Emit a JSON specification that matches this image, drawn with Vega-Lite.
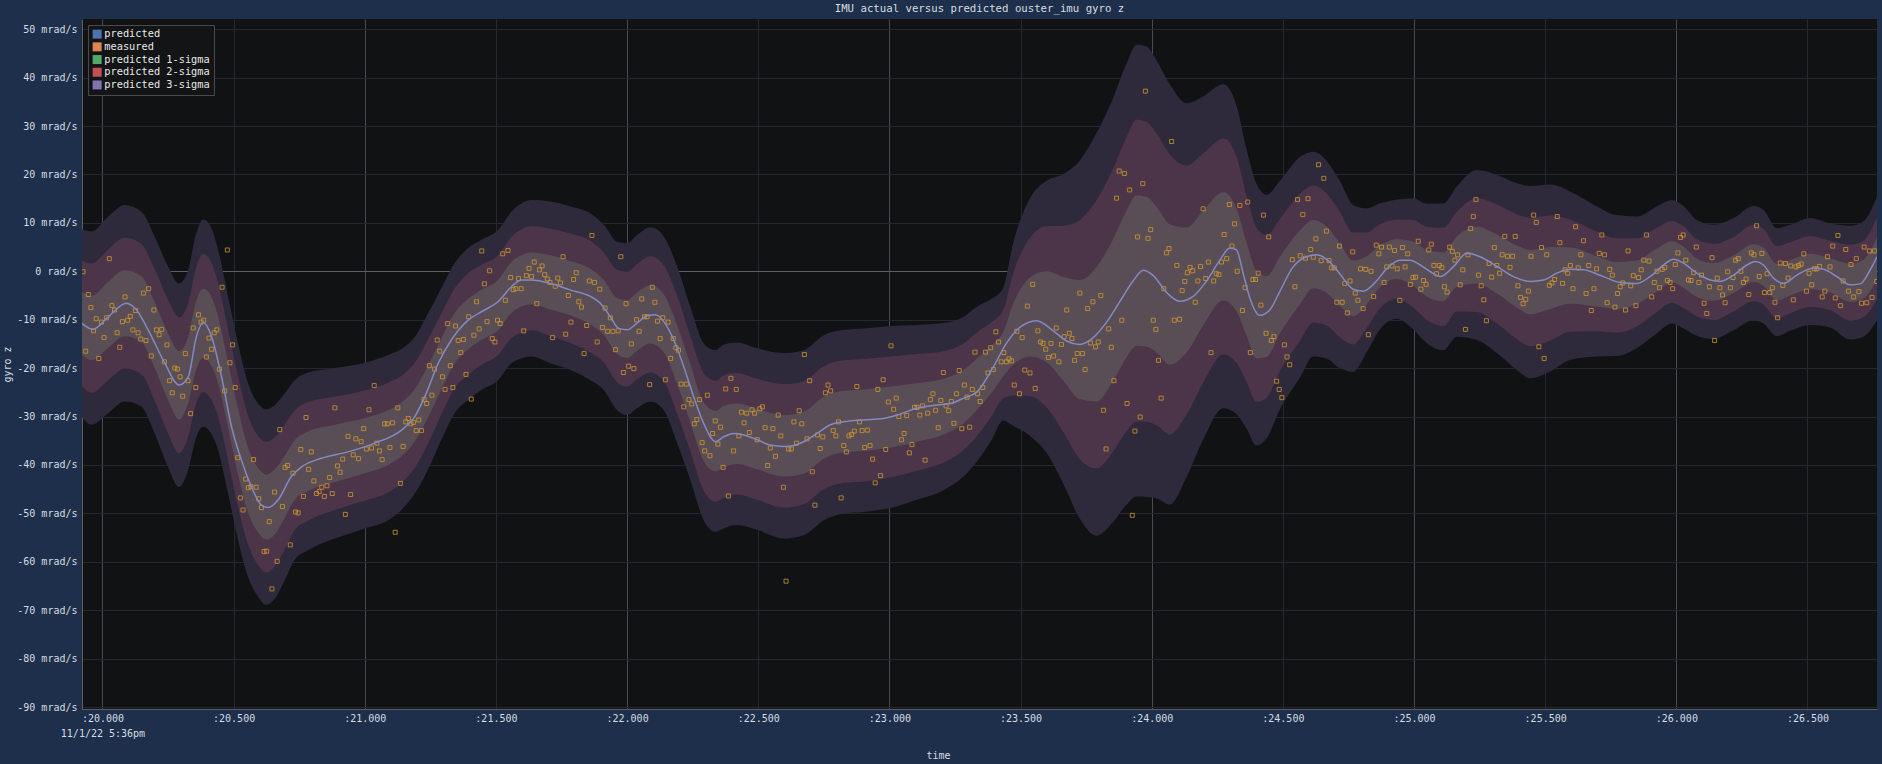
{
"$schema":"https://vega.github.io/schema/vega-lite/v6.json",
"width":1795,"height":690,
"autosize":{"type":"none"},
"padding":{"left":82,"top":19,"right":5,"bottom":55},
"background":"#1d2f4a",
"view":{"fill":"#111214","stroke":null},
"title":{"text":"IMU actual versus predicted ouster_imu gyro z","font":"DejaVu Sans Mono","fontSize":10.7,"fontWeight":"normal","color":"#d8dce0","anchor":"middle","offset":4},
"config":{
"view":{"fill":"#111214","stroke":null},
"axis":{"labelFont":"DejaVu Sans Mono","titleFont":"DejaVu Sans Mono","labelFontSize":10,"titleFontSize":10,"labelColor":"#d8dce0","titleColor":"#d8dce0","titleFontWeight":"normal","ticks":false,"domainColor":"#5a6068","domainWidth":1,"zindex":1},
"legend":{"orient":"top-left","offset":6,"fillColor":"#131416","strokeColor":"#4a4a4c","padding":4,"labelFont":"DejaVu Sans Mono","labelFontSize":10.3,"labelColor":"#e8e8e8","symbolType":"square","symbolSize":81,"symbolStrokeWidth":0,"symbolOpacity":1,"labelOffset":2,"rowPadding":1.7,"zindex":2}
},
"datasets":{
"band":[
{"t":19.920,"h3":8.7,"h2":2.3,"h1":-4.2,"l1":-17.1,"l2":-23.6,"l3":-30.0},
{"t":19.958,"h3":8.2,"h2":1.6,"h1":-5.1,"l1":-18.4,"l2":-25.1,"l3":-31.7},
{"t":20.022,"h3":11.3,"h2":4.5,"h1":-2.2,"l1":-15.8,"l2":-22.5,"l3":-29.3},
{"t":20.085,"h3":13.7,"h2":6.9,"h1":0.2,"l1":-13.4,"l2":-20.1,"l3":-26.9},
{"t":20.149,"h3":12.3,"h2":5.6,"h1":-1.1,"l1":-14.6,"l2":-21.3,"l3":-28.0},
{"t":20.199,"h3":7.2,"h2":0.4,"h1":-6.4,"l1":-19.9,"l2":-26.7,"l3":-33.5},
{"t":20.250,"h3":1.0,"h2":-5.9,"h1":-12.8,"l1":-26.6,"l2":-33.5,"l3":-40.4},
{"t":20.292,"h3":-2.5,"h2":-9.5,"h1":-16.5,"l1":-30.6,"l2":-37.6,"l3":-44.6},
{"t":20.327,"h3":0.3,"h2":-6.6,"h1":-13.5,"l1":-27.2,"l2":-34.1,"l3":-41.0},
{"t":20.358,"h3":7.9,"h2":0.9,"h1":-6.1,"l1":-20.2,"l2":-27.2,"l3":-34.2},
{"t":20.384,"h3":10.7,"h2":3.6,"h1":-3.6,"l1":-17.8,"l2":-25.0,"l3":-32.1},
{"t":20.409,"h3":9.6,"h2":2.5,"h1":-4.6,"l1":-18.9,"l2":-26.0,"l3":-33.1},
{"t":20.441,"h3":4.4,"h2":-2.5,"h1":-9.4,"l1":-23.1,"l2":-30.0,"l3":-36.9},
{"t":20.479,"h3":-5.2,"h2":-12.0,"h1":-18.8,"l1":-32.3,"l2":-39.1,"l3":-45.9},
{"t":20.517,"h3":-14.9,"h2":-21.7,"h1":-28.4,"l1":-42.0,"l2":-48.7,"l3":-55.5},
{"t":20.555,"h3":-23.1,"h2":-29.8,"h1":-36.4,"l1":-49.8,"l2":-56.4,"l3":-63.1},
{"t":20.593,"h3":-27.3,"h2":-34.0,"h1":-40.6,"l1":-53.9,"l2":-60.6,"l3":-67.2},
{"t":20.625,"h3":-28.5,"h2":-35.2,"h1":-42.0,"l1":-55.4,"l2":-62.2,"l3":-68.9},
{"t":20.657,"h3":-27.6,"h2":-34.3,"h1":-40.9,"l1":-54.3,"l2":-60.9,"l3":-67.6},
{"t":20.695,"h3":-25.2,"h2":-31.6,"h1":-38.1,"l1":-50.9,"l2":-57.4,"l3":-63.8},
{"t":20.733,"h3":-22.5,"h2":-28.7,"h1":-34.9,"l1":-47.2,"l2":-53.4,"l3":-59.6},
{"t":20.784,"h3":-20.9,"h2":-27.0,"h1":-33.1,"l1":-45.4,"l2":-51.5,"l3":-57.6},
{"t":20.886,"h3":-20.0,"h2":-25.9,"h1":-31.7,"l1":-43.5,"l2":-49.3,"l3":-55.2},
{"t":21.000,"h3":-18.9,"h2":-24.6,"h1":-30.3,"l1":-41.7,"l2":-47.4,"l3":-53.1},
{"t":21.089,"h3":-17.3,"h2":-23.0,"h1":-28.7,"l1":-40.0,"l2":-45.7,"l3":-51.4},
{"t":21.152,"h3":-15.6,"h2":-21.1,"h1":-26.6,"l1":-37.6,"l2":-43.1,"l3":-48.6},
{"t":21.191,"h3":-13.5,"h2":-18.9,"h1":-24.3,"l1":-35.1,"l2":-40.5,"l3":-45.9},
{"t":21.241,"h3":-8.7,"h2":-14.1,"h1":-19.5,"l1":-30.2,"l2":-35.6,"l3":-41.0},
{"t":21.292,"h3":-3.5,"h2":-8.7,"h1":-13.9,"l1":-24.4,"l2":-29.6,"l3":-34.8},
{"t":21.343,"h3":1.7,"h2":-3.5,"h1":-8.6,"l1":-19.0,"l2":-24.1,"l3":-29.3},
{"t":21.394,"h3":4.8,"h2":-0.4,"h1":-5.7,"l1":-16.1,"l2":-21.4,"l3":-26.6},
{"t":21.445,"h3":6.5,"h2":1.3,"h1":-3.8,"l1":-14.2,"l2":-19.3,"l3":-24.5},
{"t":21.508,"h3":8.5,"h2":3.3,"h1":-1.8,"l1":-12.2,"l2":-17.3,"l3":-22.5},
{"t":21.559,"h3":12.3,"h2":7.1,"h1":1.9,"l1":-8.6,"l2":-13.8,"l3":-19.0},
{"t":21.597,"h3":14.0,"h2":8.7,"h1":3.3,"l1":-7.3,"l2":-12.7,"l3":-18.0},
{"t":21.635,"h3":14.7,"h2":9.3,"h1":3.9,"l1":-6.8,"l2":-12.2,"l3":-17.6},
{"t":21.708,"h3":14.4,"h2":8.8,"h1":3.3,"l1":-7.9,"l2":-13.4,"l3":-19.0},
{"t":21.784,"h3":13.4,"h2":7.8,"h1":2.1,"l1":-9.1,"l2":-14.8,"l3":-20.4},
{"t":21.860,"h3":12.0,"h2":6.3,"h1":0.5,"l1":-11.0,"l2":-16.8,"l3":-22.5},
{"t":21.911,"h3":9.6,"h2":3.9,"h1":-1.8,"l1":-13.1,"l2":-18.8,"l3":-24.5},
{"t":21.962,"h3":6.1,"h2":0.3,"h1":-5.5,"l1":-17.1,"l2":-22.9,"l3":-28.7},
{"t":22.000,"h3":5.8,"h2":-0.1,"h1":-6.0,"l1":-17.9,"l2":-23.8,"l3":-29.7},
{"t":22.038,"h3":7.5,"h2":1.5,"h1":-4.4,"l1":-16.4,"l2":-22.3,"l3":-28.3},
{"t":22.089,"h3":9.1,"h2":3.1,"h1":-2.9,"l1":-14.9,"l2":-20.9,"l3":-26.9},
{"t":22.140,"h3":7.2,"h2":1.2,"h1":-4.8,"l1":-16.7,"l2":-22.7,"l3":-28.7},
{"t":22.191,"h3":1.0,"h2":-5.1,"h1":-11.2,"l1":-23.3,"l2":-29.4,"l3":-35.5},
{"t":22.241,"h3":-7.3,"h2":-13.3,"h1":-19.2,"l1":-31.2,"l2":-37.1,"l3":-43.1},
{"t":22.292,"h3":-14.9,"h2":-21.0,"h1":-27.1,"l1":-39.2,"l2":-45.3,"l3":-51.4},
{"t":22.337,"h3":-16.3,"h2":-22.6,"h1":-28.8,"l1":-41.3,"l2":-47.6,"l3":-53.8},
{"t":22.368,"h3":-15.2,"h2":-21.5,"h1":-27.8,"l1":-40.5,"l2":-46.8,"l3":-53.1},
{"t":22.419,"h3":-14.7,"h2":-21.0,"h1":-27.3,"l1":-39.8,"l2":-46.1,"l3":-52.4},
{"t":22.496,"h3":-15.9,"h2":-22.2,"h1":-28.4,"l1":-40.9,"l2":-47.2,"l3":-53.4},
{"t":22.597,"h3":-16.9,"h2":-23.3,"h1":-29.7,"l1":-42.4,"l2":-48.8,"l3":-55.2},
{"t":22.673,"h3":-16.3,"h2":-22.7,"h1":-29.0,"l1":-41.8,"l2":-48.1,"l3":-54.5},
{"t":22.750,"h3":-13.2,"h2":-19.6,"h1":-25.9,"l1":-38.7,"l2":-45.0,"l3":-51.4},
{"t":22.826,"h3":-12.1,"h2":-18.4,"h1":-24.7,"l1":-37.4,"l2":-43.7,"l3":-50.0},
{"t":22.902,"h3":-11.8,"h2":-18.1,"h1":-24.4,"l1":-37.1,"l2":-43.4,"l3":-49.7},
{"t":23.004,"h3":-11.3,"h2":-17.6,"h1":-23.8,"l1":-36.4,"l2":-42.6,"l3":-48.9},
{"t":23.105,"h3":-11.1,"h2":-17.1,"h1":-23.1,"l1":-35.2,"l2":-41.2,"l3":-47.2},
{"t":23.207,"h3":-10.7,"h2":-16.5,"h1":-22.2,"l1":-33.7,"l2":-39.5,"l3":-45.2},
{"t":23.283,"h3":-9.4,"h2":-14.9,"h1":-20.4,"l1":-31.4,"l2":-36.9,"l3":-42.4},
{"t":23.334,"h3":-7.3,"h2":-12.6,"h1":-18.0,"l1":-28.6,"l2":-34.0,"l3":-39.3},
{"t":23.390,"h3":-5.7,"h2":-10.5,"h1":-15.4,"l1":-25.1,"l2":-29.9,"l3":-34.8},
{"t":23.434,"h3":-3.4,"h2":-8.0,"h1":-12.5,"l1":-21.7,"l2":-26.2,"l3":-30.8},
{"t":23.472,"h3":5.9,"h2":-0.4,"h1":-6.7,"l1":-19.3,"l2":-25.6,"l3":-31.9},
{"t":23.536,"h3":15.1,"h2":6.9,"h1":-1.3,"l1":-17.6,"l2":-25.8,"l3":-34.0},
{"t":23.599,"h3":18.7,"h2":9.3,"h1":0.0,"l1":-18.8,"l2":-28.1,"l3":-37.5},
{"t":23.663,"h3":20.1,"h2":9.4,"h1":-1.2,"l1":-22.6,"l2":-33.2,"l3":-43.9},
{"t":23.726,"h3":22.9,"h2":10.6,"h1":-1.8,"l1":-26.4,"l2":-38.8,"l3":-51.1},
{"t":23.790,"h3":28.6,"h2":14.7,"h1":0.9,"l1":-26.9,"l2":-40.7,"l3":-54.6},
{"t":23.853,"h3":35.8,"h2":21.2,"h1":6.6,"l1":-22.6,"l2":-37.2,"l3":-51.8},
{"t":23.904,"h3":42.9,"h2":27.7,"h1":12.5,"l1":-17.8,"l2":-33.0,"l3":-48.2},
{"t":23.942,"h3":46.8,"h2":31.3,"h1":15.7,"l1":-15.4,"l2":-31.0,"l3":-46.5},
{"t":23.980,"h3":46.4,"h2":30.9,"h1":15.4,"l1":-15.6,"l2":-31.1,"l3":-46.6},
{"t":24.018,"h3":43.6,"h2":28.5,"h1":13.4,"l1":-16.7,"l2":-31.8,"l3":-46.9},
{"t":24.069,"h3":38.6,"h2":24.1,"h1":9.7,"l1":-19.3,"l2":-33.7,"l3":-48.2},
{"t":24.133,"h3":34.7,"h2":21.8,"h1":9.0,"l1":-16.8,"l2":-29.6,"l3":-42.5},
{"t":24.196,"h3":36.1,"h2":24.3,"h1":12.5,"l1":-11.2,"l2":-23.0,"l3":-34.8},
{"t":24.273,"h3":38.6,"h2":27.4,"h1":16.3,"l1":-6.0,"l2":-17.2,"l3":-28.3},
{"t":24.323,"h3":34.3,"h2":23.7,"h1":13.0,"l1":-8.2,"l2":-18.9,"l3":-29.5},
{"t":24.362,"h3":25.1,"h2":15.5,"h1":5.9,"l1":-13.3,"l2":-22.9,"l3":-32.5},
{"t":24.400,"h3":18.0,"h2":9.0,"h1":0.0,"l1":-18.0,"l2":-27.0,"l3":-36.0},
{"t":24.438,"h3":15.8,"h2":7.4,"h1":-1.0,"l1":-17.7,"l2":-26.1,"l3":-34.5},
{"t":24.489,"h3":18.7,"h2":10.8,"h1":3.0,"l1":-12.8,"l2":-20.6,"l3":-28.5},
{"t":24.565,"h3":23.6,"h2":16.0,"h1":8.4,"l1":-6.8,"l2":-14.4,"l3":-22.0},
{"t":24.616,"h3":24.7,"h2":17.7,"h1":10.6,"l1":-3.5,"l2":-10.6,"l3":-17.6},
{"t":24.666,"h3":22.9,"h2":16.1,"h1":9.3,"l1":-4.4,"l2":-11.2,"l3":-18.0},
{"t":24.717,"h3":18.7,"h2":12.3,"h1":5.8,"l1":-7.1,"l2":-13.6,"l3":-20.0},
{"t":24.768,"h3":13.7,"h2":8.0,"h1":2.2,"l1":-9.3,"l2":-15.1,"l3":-20.8},
{"t":24.819,"h3":13.0,"h2":8.0,"h1":3.1,"l1":-6.9,"l2":-11.8,"l3":-16.8},
{"t":24.870,"h3":14.0,"h2":9.7,"h1":5.3,"l1":-3.3,"l2":-7.7,"l3":-12.0},
{"t":24.933,"h3":14.8,"h2":10.7,"h1":6.6,"l1":-1.6,"l2":-5.7,"l3":-9.8},
{"t":24.997,"h3":15.1,"h2":10.6,"h1":6.1,"l1":-3.0,"l2":-7.5,"l3":-12.0},
{"t":25.048,"h3":14.0,"h2":9.2,"h1":4.4,"l1":-5.2,"l2":-10.0,"l3":-14.8},
{"t":25.112,"h3":14.0,"h2":9.0,"h1":3.9,"l1":-6.2,"l2":-11.3,"l3":-16.3},
{"t":25.163,"h3":17.5,"h2":12.3,"h1":7.2,"l1":-3.2,"l2":-8.3,"l3":-13.5},
{"t":25.240,"h3":20.9,"h2":15.1,"h1":9.2,"l1":-2.5,"l2":-8.4,"l3":-14.2},
{"t":25.316,"h3":19.9,"h2":13.8,"h1":7.6,"l1":-4.6,"l2":-10.8,"l3":-16.9},
{"t":25.392,"h3":18.2,"h2":11.8,"h1":5.3,"l1":-7.5,"l2":-14.0,"l3":-20.4},
{"t":25.443,"h3":17.6,"h2":11.0,"h1":4.4,"l1":-8.9,"l2":-15.5,"l3":-22.1},
{"t":25.519,"h3":17.9,"h2":11.5,"h1":5.0,"l1":-7.8,"l2":-14.3,"l3":-20.7},
{"t":25.595,"h3":16.5,"h2":10.7,"h1":4.9,"l1":-6.7,"l2":-12.5,"l3":-18.3},
{"t":25.697,"h3":13.4,"h2":8.2,"h1":3.1,"l1":-7.3,"l2":-12.4,"l3":-17.6},
{"t":25.773,"h3":11.6,"h2":6.8,"h1":1.9,"l1":-7.8,"l2":-12.7,"l3":-17.5},
{"t":25.849,"h3":11.3,"h2":6.8,"h1":2.2,"l1":-6.8,"l2":-11.4,"l3":-15.9},
{"t":25.926,"h3":13.4,"h2":9.0,"h1":4.7,"l1":-4.1,"l2":-8.4,"l3":-12.8},
{"t":25.983,"h3":14.7,"h2":10.4,"h1":6.2,"l1":-2.3,"l2":-6.5,"l3":-10.8},
{"t":26.027,"h3":13.5,"h2":9.3,"h1":5.1,"l1":-3.4,"l2":-7.6,"l3":-11.8},
{"t":26.078,"h3":10.6,"h2":6.6,"h1":2.6,"l1":-5.3,"l2":-9.3,"l3":-13.3},
{"t":26.142,"h3":9.6,"h2":5.7,"h1":1.7,"l1":-6.1,"l2":-10.1,"l3":-14.0},
{"t":26.218,"h3":11.0,"h2":7.1,"h1":3.3,"l1":-4.5,"l2":-8.3,"l3":-12.2},
{"t":26.294,"h3":13.5,"h2":9.6,"h1":5.6,"l1":-2.2,"l2":-6.2,"l3":-10.1},
{"t":26.332,"h3":12.7,"h2":8.8,"h1":4.9,"l1":-3.0,"l2":-6.9,"l3":-10.8},
{"t":26.383,"h3":8.9,"h2":5.2,"h1":1.5,"l1":-6.0,"l2":-9.7,"l3":-13.4},
{"t":26.434,"h3":9.6,"h2":6.0,"h1":2.3,"l1":-5.0,"l2":-8.7,"l3":-12.3},
{"t":26.510,"h3":11.0,"h2":7.3,"h1":3.6,"l1":-3.7,"l2":-7.4,"l3":-11.1},
{"t":26.586,"h3":9.9,"h2":6.3,"h1":2.7,"l1":-4.4,"l2":-8.0,"l3":-11.6},
{"t":26.663,"h3":9.4,"h2":5.5,"h1":1.6,"l1":-6.3,"l2":-10.2,"l3":-14.1},
{"t":26.713,"h3":10.3,"h2":6.3,"h1":2.4,"l1":-5.6,"l2":-9.5,"l3":-13.5},
{"t":26.765,"h3":15.4,"h2":11.2,"h1":6.9,"l1":-1.6,"l2":-5.9,"l3":-10.1}
],
"line":[
{"t":19.920,"p":-10.7},{"t":19.964,"p":-12.0},{"t":20.022,"p":-9.4},{"t":20.091,"p":-6.6},{"t":20.130,"p":-8.0},{"t":20.174,"p":-12.1},{"t":20.238,"p":-19.0},{"t":20.292,"p":-23.5},{"t":20.327,"p":-21.8},{"t":20.358,"p":-13.5},{"t":20.384,"p":-10.6},{"t":20.416,"p":-13.5},{"t":20.454,"p":-21.8},{"t":20.492,"p":-32.1},{"t":20.530,"p":-39.0},{"t":20.568,"p":-44.5},{"t":20.606,"p":-48.3},{"t":20.632,"p":-48.8},{"t":20.670,"p":-47.2},{"t":20.720,"p":-42.4},{"t":20.759,"p":-40.4},{"t":20.835,"p":-38.6},{"t":20.936,"p":-37.3},{"t":21.038,"p":-35.5},{"t":21.140,"p":-32.8},{"t":21.191,"p":-30.0},{"t":21.229,"p":-25.9},{"t":21.280,"p":-19.0},{"t":21.330,"p":-14.2},{"t":21.394,"p":-10.1},{"t":21.457,"p":-8.0},{"t":21.508,"p":-6.3},{"t":21.559,"p":-3.2},{"t":21.597,"p":-1.8},{"t":21.632,"p":-1.8},{"t":21.708,"p":-2.5},{"t":21.784,"p":-3.9},{"t":21.860,"p":-5.2},{"t":21.898,"p":-6.6},{"t":21.936,"p":-9.4},{"t":21.968,"p":-11.8},{"t":22.000,"p":-12.1},{"t":22.038,"p":-10.7},{"t":22.076,"p":-9.2},{"t":22.108,"p":-9.0},{"t":22.140,"p":-10.4},{"t":22.178,"p":-14.2},{"t":22.216,"p":-19.7},{"t":22.254,"p":-25.9},{"t":22.292,"p":-31.4},{"t":22.337,"p":-35.2},{"t":22.368,"p":-34.2},{"t":22.407,"p":-33.5},{"t":22.445,"p":-33.8},{"t":22.496,"p":-34.8},{"t":22.546,"p":-35.9},{"t":22.597,"p":-36.2},{"t":22.635,"p":-36.0},{"t":22.673,"p":-35.2},{"t":22.724,"p":-33.5},{"t":22.775,"p":-31.7},{"t":22.826,"p":-31.1},{"t":22.902,"p":-30.7},{"t":22.978,"p":-30.4},{"t":23.029,"p":-29.7},{"t":23.105,"p":-28.3},{"t":23.182,"p":-27.6},{"t":23.233,"p":-27.3},{"t":23.283,"p":-26.2},{"t":23.334,"p":-24.9},{"t":23.396,"p":-19.8},{"t":23.447,"p":-14.8},{"t":23.497,"p":-11.6},{"t":23.561,"p":-10.2},{"t":23.625,"p":-12.3},{"t":23.675,"p":-14.4},{"t":23.726,"p":-15.1},{"t":23.777,"p":-13.7},{"t":23.828,"p":-10.5},{"t":23.879,"p":-6.2},{"t":23.929,"p":-2.0},{"t":23.968,"p":0.2},{"t":24.006,"p":-0.9},{"t":24.057,"p":-4.4},{"t":24.107,"p":-6.2},{"t":24.158,"p":-5.2},{"t":24.209,"p":-2.0},{"t":24.260,"p":2.3},{"t":24.298,"p":4.8},{"t":24.323,"p":4.4},{"t":24.349,"p":-0.5},{"t":24.374,"p":-5.5},{"t":24.412,"p":-9.1},{"t":24.450,"p":-8.0},{"t":24.489,"p":-4.1},{"t":24.539,"p":0.9},{"t":24.590,"p":3.0},{"t":24.628,"p":3.4},{"t":24.679,"p":1.9},{"t":24.717,"p":-0.5},{"t":24.768,"p":-3.7},{"t":24.806,"p":-4.1},{"t":24.857,"p":-2.0},{"t":24.895,"p":0.5},{"t":24.946,"p":2.3},{"t":24.984,"p":2.3},{"t":25.035,"p":0.9},{"t":25.062,"p":-0.1},{"t":25.100,"p":-1.1},{"t":25.151,"p":1.0},{"t":25.201,"p":3.7},{"t":25.252,"p":3.0},{"t":25.316,"p":1.0},{"t":25.379,"p":-1.1},{"t":25.443,"p":-2.1},{"t":25.494,"p":-1.8},{"t":25.544,"p":-0.4},{"t":25.595,"p":0.4},{"t":25.646,"p":0.3},{"t":25.722,"p":-1.1},{"t":25.786,"p":-2.3},{"t":25.849,"p":-2.5},{"t":25.900,"p":-1.1},{"t":25.951,"p":1.3},{"t":25.989,"p":2.5},{"t":26.027,"p":1.7},{"t":26.078,"p":-0.4},{"t":26.129,"p":-1.8},{"t":26.167,"p":-2.1},{"t":26.218,"p":-0.8},{"t":26.269,"p":1.3},{"t":26.301,"p":2.0},{"t":26.332,"p":1.3},{"t":26.370,"p":-1.4},{"t":26.409,"p":-2.5},{"t":26.459,"p":-0.8},{"t":26.523,"p":0.6},{"t":26.561,"p":0.4},{"t":26.612,"p":-1.1},{"t":26.663,"p":-2.8},{"t":26.701,"p":-2.6},{"t":26.739,"p":0.3},{"t":26.765,"p":3.0}
],
"meas":[
{"t":19.926,"v":-0.1},{"t":19.936,"v":-16.5},{"t":19.946,"v":-4.8},{"t":19.956,"v":-7.5},{"t":19.966,"v":-12.3},{"t":19.976,"v":-9.8},{"t":19.986,"v":-18.0},{"t":19.996,"v":-10.5},{"t":20.006,"v":-13.7},{"t":20.016,"v":-9.6},
{"t":20.026,"v":2.6},{"t":20.036,"v":-7.1},{"t":20.046,"v":-8.0},{"t":20.056,"v":-12.7},{"t":20.066,"v":-15.7},{"t":20.076,"v":-10.4},{"t":20.086,"v":-5.3},{"t":20.096,"v":-10.1},{"t":20.106,"v":-9.3},{"t":20.116,"v":-12.1},
{"t":20.126,"v":-8.1},{"t":20.136,"v":-12.7},{"t":20.146,"v":-14.0},{"t":20.156,"v":-4.5},{"t":20.166,"v":-14.3},{"t":20.176,"v":-3.6},{"t":20.186,"v":-17.5},{"t":20.196,"v":-8.0},{"t":20.206,"v":-12.1},{"t":20.216,"v":-13.1},
{"t":20.226,"v":-12.0},{"t":20.236,"v":-18.7},{"t":20.246,"v":-15.2},{"t":20.256,"v":-22.6},{"t":20.266,"v":-25.1},{"t":20.276,"v":-20.0},{"t":20.286,"v":-20.2},{"t":20.296,"v":-21.8},{"t":20.306,"v":-25.8},{"t":20.316,"v":-17.0},
{"t":20.326,"v":-22.6},{"t":20.336,"v":-29.4},{"t":20.346,"v":-11.7},{"t":20.356,"v":-24.0},{"t":20.366,"v":-9.0},{"t":20.376,"v":-10.5},{"t":20.386,"v":-10.1},{"t":20.396,"v":-17.7},{"t":20.406,"v":-13.8},{"t":20.416,"v":-16.1},
{"t":20.426,"v":-12.7},{"t":20.436,"v":-12.1},{"t":20.446,"v":-20.2},{"t":20.456,"v":-3.3},{"t":20.466,"v":-24.7},{"t":20.476,"v":4.4},{"t":20.486,"v":-18.9},{"t":20.496,"v":-15.2},{"t":20.506,"v":-24.0},{"t":20.516,"v":-38.5},
{"t":20.526,"v":-46.8},{"t":20.536,"v":-49.3},{"t":20.546,"v":-42.9},{"t":20.556,"v":-44.7},{"t":20.566,"v":-44.5},{"t":20.576,"v":-38.9},{"t":20.586,"v":-44.6},{"t":20.596,"v":-47.0},{"t":20.606,"v":-48.8},{"t":20.616,"v":-57.9},
{"t":20.626,"v":-57.8},{"t":20.636,"v":-51.7},{"t":20.646,"v":-65.6},{"t":20.656,"v":-45.6},{"t":20.666,"v":-59.9},{"t":20.676,"v":-32.7},{"t":20.686,"v":-48.6},{"t":20.696,"v":-40.5},{"t":20.706,"v":-40.1},{"t":20.716,"v":-56.5},
{"t":20.726,"v":-41.7},{"t":20.736,"v":-49.7},{"t":20.746,"v":-49.9},{"t":20.756,"v":-36.8},{"t":20.766,"v":-46.5},{"t":20.776,"v":-30.2},{"t":20.786,"v":-40.9},{"t":20.796,"v":-37.3},{"t":20.806,"v":-43.3},{"t":20.816,"v":-45.9},
{"t":20.826,"v":-45.5},{"t":20.836,"v":-44.6},{"t":20.846,"v":-46.5},{"t":20.856,"v":-44.3},{"t":20.866,"v":-42.6},{"t":20.876,"v":-45.9},{"t":20.886,"v":-28.2},{"t":20.896,"v":-40.2},{"t":20.906,"v":-41.5},{"t":20.916,"v":-38.8},
{"t":20.926,"v":-50.2},{"t":20.936,"v":-34.1},{"t":20.946,"v":-46.1},{"t":20.956,"v":-37.9},{"t":20.966,"v":-34.6},{"t":20.976,"v":-38.7},{"t":20.986,"v":-35.2},{"t":20.996,"v":-32.5},{"t":21.006,"v":-36.7},{"t":21.016,"v":-28.6},
{"t":21.026,"v":-36.5},{"t":21.036,"v":-23.6},{"t":21.046,"v":-35.5},{"t":21.056,"v":-37.1},{"t":21.066,"v":-38.9},{"t":21.076,"v":-31.5},{"t":21.086,"v":-31.5},{"t":21.096,"v":-36.4},{"t":21.106,"v":-31.3},{"t":21.116,"v":-53.9},
{"t":21.126,"v":-28.2},{"t":21.136,"v":-43.8},{"t":21.146,"v":-36.2},{"t":21.156,"v":-31.1},{"t":21.166,"v":-30.4},{"t":21.176,"v":-31.5},{"t":21.186,"v":-31.2},{"t":21.196,"v":-32.9},{"t":21.206,"v":-30.7},{"t":21.216,"v":-32.9},
{"t":21.226,"v":-26.5},{"t":21.236,"v":-27.3},{"t":21.246,"v":-19.5},{"t":21.256,"v":-25.6},{"t":21.266,"v":-20.2},{"t":21.276,"v":-14.2},{"t":21.286,"v":-16.5},{"t":21.296,"v":-21.8},{"t":21.306,"v":-24.4},{"t":21.316,"v":-10.8},
{"t":21.326,"v":-19.5},{"t":21.336,"v":-24.0},{"t":21.346,"v":-11.3},{"t":21.356,"v":-14.3},{"t":21.366,"v":-16.8},{"t":21.376,"v":-14.1},{"t":21.386,"v":-21.3},{"t":21.396,"v":-9.4},{"t":21.406,"v":-26.4},{"t":21.416,"v":-13.2},
{"t":21.426,"v":-6.3},{"t":21.436,"v":-11.9},{"t":21.446,"v":4.2},{"t":21.456,"v":-2.6},{"t":21.466,"v":-10.4},{"t":21.476,"v":0.1},{"t":21.486,"v":-13.9},{"t":21.496,"v":-14.6},{"t":21.506,"v":-10.1},{"t":21.516,"v":-10.8},
{"t":21.526,"v":3.6},{"t":21.536,"v":-6.0},{"t":21.546,"v":4.3},{"t":21.556,"v":-1.3},{"t":21.566,"v":-3.8},{"t":21.576,"v":-3.6},{"t":21.586,"v":-1.5},{"t":21.596,"v":-3.6},{"t":21.606,"v":-12.3},{"t":21.616,"v":-0.9},
{"t":21.626,"v":0.6},{"t":21.636,"v":-1.1},{"t":21.646,"v":1.9},{"t":21.656,"v":-6.7},{"t":21.666,"v":0.3},{"t":21.676,"v":1.1},{"t":21.686,"v":-0.7},{"t":21.696,"v":-1.6},{"t":21.706,"v":-2.3},{"t":21.716,"v":-13.7},
{"t":21.726,"v":-3.1},{"t":21.736,"v":-1.4},{"t":21.746,"v":-2.4},{"t":21.756,"v":3.0},{"t":21.766,"v":-13.0},{"t":21.776,"v":-5.0},{"t":21.786,"v":-10.5},{"t":21.796,"v":-1.7},{"t":21.806,"v":-0.3},{"t":21.816,"v":-6.3},
{"t":21.826,"v":-7.4},{"t":21.836,"v":-17.0},{"t":21.846,"v":-11.2},{"t":21.856,"v":-2.0},{"t":21.866,"v":7.4},{"t":21.876,"v":-2.3},{"t":21.886,"v":-14.6},{"t":21.896,"v":-3.7},{"t":21.906,"v":-11.6},{"t":21.916,"v":-7.6},
{"t":21.926,"v":-12.4},{"t":21.936,"v":-9.6},{"t":21.946,"v":-12.4},{"t":21.956,"v":-16.2},{"t":21.966,"v":-12.3},{"t":21.976,"v":3.0},{"t":21.986,"v":-20.9},{"t":21.996,"v":-6.7},{"t":22.006,"v":-19.6},{"t":22.016,"v":-15.0},
{"t":22.026,"v":-20.1},{"t":22.036,"v":-10.0},{"t":22.046,"v":-12.4},{"t":22.056,"v":-5.7},{"t":22.066,"v":-9.4},{"t":22.076,"v":-9.4},{"t":22.086,"v":-23.4},{"t":22.096,"v":-3.3},{"t":22.106,"v":-6.4},{"t":22.116,"v":-10.3},
{"t":22.126,"v":-13.9},{"t":22.136,"v":-9.6},{"t":22.146,"v":-22.4},{"t":22.156,"v":-10.5},{"t":22.166,"v":-18.0},{"t":22.176,"v":-13.9},{"t":22.186,"v":-15.8},{"t":22.196,"v":-16.3},{"t":22.206,"v":-23.3},{"t":22.216,"v":-28.0},
{"t":22.226,"v":-23.3},{"t":22.236,"v":-26.5},{"t":22.246,"v":-27.4},{"t":22.256,"v":-31.5},{"t":22.266,"v":-30.6},{"t":22.276,"v":-26.5},{"t":22.286,"v":-35.4},{"t":22.296,"v":-37.1},{"t":22.306,"v":-25.6},{"t":22.316,"v":-38.1},
{"t":22.326,"v":-33.5},{"t":22.336,"v":-30.9},{"t":22.346,"v":-35.7},{"t":22.356,"v":-32.2},{"t":22.366,"v":-40.5},{"t":22.376,"v":-24.3},{"t":22.386,"v":-46.4},{"t":22.396,"v":-22.1},{"t":22.406,"v":-37.1},{"t":22.416,"v":-24.4},
{"t":22.426,"v":-34.0},{"t":22.436,"v":-29.1},{"t":22.446,"v":-31.3},{"t":22.456,"v":-29.3},{"t":22.466,"v":-33.3},{"t":22.476,"v":-28.6},{"t":22.486,"v":-29.3},{"t":22.496,"v":-34.8},{"t":22.506,"v":-28.4},{"t":22.516,"v":-28.0},
{"t":22.526,"v":-32.3},{"t":22.536,"v":-40.1},{"t":22.546,"v":-36.5},{"t":22.556,"v":-32.5},{"t":22.566,"v":-38.2},{"t":22.576,"v":-29.7},{"t":22.586,"v":-34.0},{"t":22.596,"v":-44.6},{"t":22.606,"v":-64.0},{"t":22.616,"v":-36.7},
{"t":22.626,"v":-36.7},{"t":22.636,"v":-31.1},{"t":22.646,"v":-35.5},{"t":22.656,"v":-28.8},{"t":22.666,"v":-31.5},{"t":22.676,"v":-17.2},{"t":22.686,"v":-34.6},{"t":22.696,"v":-22.6},{"t":22.706,"v":-41.4},{"t":22.716,"v":-48.3},
{"t":22.726,"v":-33.8},{"t":22.736,"v":-36.6},{"t":22.746,"v":-34.2},{"t":22.756,"v":-25.1},{"t":22.766,"v":-23.5},{"t":22.776,"v":-24.7},{"t":22.786,"v":-32.9},{"t":22.796,"v":-34.0},{"t":22.806,"v":-31.1},{"t":22.816,"v":-46.8},
{"t":22.826,"v":-36.0},{"t":22.836,"v":-37.3},{"t":22.846,"v":-34.0},{"t":22.856,"v":-33.7},{"t":22.866,"v":-33.0},{"t":22.876,"v":-23.8},{"t":22.886,"v":-31.1},{"t":22.896,"v":-32.9},{"t":22.906,"v":-36.4},{"t":22.916,"v":-32.8},
{"t":22.926,"v":-36.0},{"t":22.936,"v":-38.8},{"t":22.946,"v":-43.7},{"t":22.956,"v":-24.4},{"t":22.966,"v":-42.2},{"t":22.976,"v":-22.4},{"t":22.986,"v":-36.8},{"t":22.996,"v":-27.0},{"t":23.006,"v":-15.4},{"t":23.016,"v":-28.5},
{"t":23.026,"v":-26.2},{"t":23.036,"v":-30.0},{"t":23.046,"v":-34.8},{"t":23.056,"v":-33.5},{"t":23.066,"v":-29.8},{"t":23.076,"v":-37.5},{"t":23.086,"v":-35.8},{"t":23.096,"v":-28.1},{"t":23.106,"v":-28.1},{"t":23.116,"v":-29.7},
{"t":23.126,"v":-27.8},{"t":23.136,"v":-39.0},{"t":23.146,"v":-29.3},{"t":23.156,"v":-26.5},{"t":23.166,"v":-25.3},{"t":23.176,"v":-28.7},{"t":23.186,"v":-32.3},{"t":23.196,"v":-26.7},{"t":23.206,"v":-20.9},{"t":23.216,"v":-27.8},
{"t":23.226,"v":-28.8},{"t":23.236,"v":-26.9},{"t":23.246,"v":-31.4},{"t":23.256,"v":-25.3},{"t":23.266,"v":-20.5},{"t":23.276,"v":-32.5},{"t":23.286,"v":-23.5},{"t":23.296,"v":-26.0},{"t":23.306,"v":-32.2},{"t":23.316,"v":-24.4},
{"t":23.326,"v":-16.7},{"t":23.336,"v":-25.3},{"t":23.346,"v":-26.9},{"t":23.356,"v":-24.0},{"t":23.366,"v":-16.7},{"t":23.376,"v":-21.0},{"t":23.386,"v":-15.8},{"t":23.396,"v":-20.3},{"t":23.406,"v":-12.5},{"t":23.416,"v":-14.6},
{"t":23.426,"v":-18.7},{"t":23.436,"v":-16.8},{"t":23.446,"v":-18.7},{"t":23.456,"v":-18.1},{"t":23.466,"v":-18.5},{"t":23.476,"v":-23.5},{"t":23.486,"v":-12.4},{"t":23.496,"v":-25.3},{"t":23.506,"v":-13.7},{"t":23.516,"v":-20.4},
{"t":23.526,"v":-7.2},{"t":23.536,"v":-21.0},{"t":23.546,"v":-2.7},{"t":23.556,"v":-24.2},{"t":23.566,"v":-12.3},{"t":23.576,"v":-14.6},{"t":23.586,"v":-14.9},{"t":23.596,"v":-16.1},{"t":23.606,"v":-17.8},{"t":23.616,"v":-14.9},
{"t":23.626,"v":-17.5},{"t":23.636,"v":-11.7},{"t":23.646,"v":-18.7},{"t":23.656,"v":-15.1},{"t":23.666,"v":-13.5},{"t":23.676,"v":-8.0},{"t":23.686,"v":-12.8},{"t":23.696,"v":-13.9},{"t":23.706,"v":-18.4},{"t":23.716,"v":-17.0},
{"t":23.726,"v":-4.5},{"t":23.736,"v":-17.0},{"t":23.746,"v":-20.3},{"t":23.756,"v":-7.7},{"t":23.766,"v":-14.8},{"t":23.776,"v":-6.3},{"t":23.786,"v":-15.6},{"t":23.796,"v":-14.6},{"t":23.806,"v":-5.0},{"t":23.816,"v":-28.7},
{"t":23.826,"v":-36.7},{"t":23.836,"v":-11.9},{"t":23.846,"v":-15.7},{"t":23.856,"v":-22.6},{"t":23.866,"v":15.1},{"t":23.876,"v":20.7},{"t":23.886,"v":-10.1},{"t":23.896,"v":20.2},{"t":23.906,"v":-27.3},{"t":23.916,"v":16.8},
{"t":23.926,"v":-50.4},{"t":23.936,"v":-33.0},{"t":23.946,"v":7.1},{"t":23.956,"v":-30.1},{"t":23.966,"v":18.1},{"t":23.976,"v":37.2},{"t":23.986,"v":6.8},{"t":23.996,"v":8.6},{"t":24.006,"v":-10.1},{"t":24.016,"v":-12.0},
{"t":24.026,"v":-18.4},{"t":24.036,"v":-26.2},{"t":24.046,"v":-3.6},{"t":24.056,"v":3.8},{"t":24.066,"v":4.7},{"t":24.076,"v":26.8},{"t":24.086,"v":-10.1},{"t":24.096,"v":1.2},{"t":24.106,"v":-9.9},{"t":24.116,"v":-4.0},
{"t":24.126,"v":-2.1},{"t":24.136,"v":-0.3},{"t":24.146,"v":0.8},{"t":24.156,"v":0.1},{"t":24.166,"v":-6.4},{"t":24.176,"v":-2.0},{"t":24.186,"v":1.0},{"t":24.196,"v":12.9},{"t":24.206,"v":-1.5},{"t":24.216,"v":1.9},
{"t":24.226,"v":-16.8},{"t":24.236,"v":-2.0},{"t":24.246,"v":-0.5},{"t":24.256,"v":-0.7},{"t":24.266,"v":1.9},{"t":24.276,"v":7.6},{"t":24.286,"v":2.6},{"t":24.296,"v":13.8},{"t":24.306,"v":5.2},{"t":24.316,"v":9.8},
{"t":24.326,"v":0.0},{"t":24.336,"v":13.6},{"t":24.346,"v":-8.1},{"t":24.356,"v":-3.4},{"t":24.366,"v":14.3},{"t":24.376,"v":-16.8},{"t":24.386,"v":-1.7},{"t":24.396,"v":-1.7},{"t":24.406,"v":-0.4},{"t":24.416,"v":-7.0},
{"t":24.426,"v":11.6},{"t":24.436,"v":-12.8},{"t":24.446,"v":7.1},{"t":24.456,"v":-14.3},{"t":24.466,"v":-13.5},{"t":24.476,"v":-22.7},{"t":24.486,"v":-24.4},{"t":24.496,"v":-26.1},{"t":24.506,"v":-15.2},{"t":24.516,"v":-17.7},
{"t":24.526,"v":-19.3},{"t":24.536,"v":2.4},{"t":24.546,"v":-3.2},{"t":24.556,"v":14.8},{"t":24.566,"v":3.2},{"t":24.576,"v":11.7},{"t":24.586,"v":2.7},{"t":24.596,"v":15.0},{"t":24.606,"v":4.5},{"t":24.616,"v":2.9},
{"t":24.626,"v":6.7},{"t":24.636,"v":22.0},{"t":24.646,"v":2.2},{"t":24.656,"v":19.2},{"t":24.666,"v":8.3},{"t":24.676,"v":2.2},{"t":24.686,"v":0.7},{"t":24.696,"v":0.7},{"t":24.706,"v":-6.4},{"t":24.716,"v":5.2},
{"t":24.726,"v":-6.4},{"t":24.736,"v":-2.5},{"t":24.746,"v":-8.6},{"t":24.756,"v":-2.0},{"t":24.766,"v":4.0},{"t":24.776,"v":-4.5},{"t":24.786,"v":-6.0},{"t":24.796,"v":0.5},{"t":24.806,"v":-7.7},{"t":24.816,"v":0.4},
{"t":24.826,"v":-13.1},{"t":24.836,"v":0.0},{"t":24.846,"v":-5.2},{"t":24.856,"v":5.4},{"t":24.866,"v":3.6},{"t":24.876,"v":5.0},{"t":24.886,"v":-2.3},{"t":24.896,"v":0.9},{"t":24.906,"v":5.0},{"t":24.916,"v":1.1},
{"t":24.926,"v":4.3},{"t":24.936,"v":0.5},{"t":24.946,"v":-6.0},{"t":24.956,"v":4.9},{"t":24.966,"v":0.9},{"t":24.976,"v":3.6},{"t":24.986,"v":-2.7},{"t":24.996,"v":-1.3},{"t":25.006,"v":-1.2},{"t":25.016,"v":6.2},
{"t":25.026,"v":-3.7},{"t":25.036,"v":-1.9},{"t":25.046,"v":-2.7},{"t":25.056,"v":4.4},{"t":25.066,"v":5.6},{"t":25.076,"v":1.2},{"t":25.086,"v":-0.5},{"t":25.096,"v":1.2},{"t":25.106,"v":0.8},{"t":25.116,"v":-3.2},
{"t":25.126,"v":-4.3},{"t":25.136,"v":5.0},{"t":25.146,"v":4.1},{"t":25.156,"v":2.3},{"t":25.166,"v":3.4},{"t":25.176,"v":-2.8},{"t":25.186,"v":0.3},{"t":25.196,"v":-12.0},{"t":25.206,"v":3.4},{"t":25.216,"v":8.8},
{"t":25.226,"v":11.3},{"t":25.236,"v":14.8},{"t":25.246,"v":-0.8},{"t":25.256,"v":-3.0},{"t":25.266,"v":-5.9},{"t":25.276,"v":-10.2},{"t":25.286,"v":1.6},{"t":25.296,"v":-1.2},{"t":25.306,"v":4.9},{"t":25.316,"v":1.2},
{"t":25.326,"v":-0.4},{"t":25.336,"v":3.4},{"t":25.346,"v":7.2},{"t":25.356,"v":3.1},{"t":25.366,"v":0.8},{"t":25.376,"v":3.1},{"t":25.386,"v":7.2},{"t":25.396,"v":-3.0},{"t":25.406,"v":-5.4},{"t":25.416,"v":-6.7},
{"t":25.426,"v":-5.8},{"t":25.436,"v":-4.1},{"t":25.446,"v":3.1},{"t":25.456,"v":11.6},{"t":25.466,"v":10.1},{"t":25.476,"v":-15.6},{"t":25.486,"v":4.9},{"t":25.496,"v":-18.0},{"t":25.506,"v":3.4},{"t":25.516,"v":-2.9},
{"t":25.526,"v":-2.4},{"t":25.536,"v":-1.7},{"t":25.546,"v":11.3},{"t":25.556,"v":5.9},{"t":25.566,"v":-2.5},{"t":25.576,"v":0.3},{"t":25.586,"v":-0.4},{"t":25.596,"v":1.2},{"t":25.606,"v":-3.6},{"t":25.616,"v":9.2},
{"t":25.626,"v":0.7},{"t":25.636,"v":3.4},{"t":25.646,"v":6.3},{"t":25.656,"v":-4.6},{"t":25.666,"v":1.2},{"t":25.676,"v":-8.1},{"t":25.686,"v":-3.6},{"t":25.696,"v":0.5},{"t":25.706,"v":3.7},{"t":25.716,"v":7.5},
{"t":25.726,"v":3.4},{"t":25.736,"v":-6.5},{"t":25.746,"v":0.4},{"t":25.756,"v":-0.8},{"t":25.766,"v":-7.4},{"t":25.776,"v":-4.6},{"t":25.786,"v":-3.2},{"t":25.796,"v":-2.4},{"t":25.806,"v":-8.0},{"t":25.816,"v":4.2},
{"t":25.826,"v":-3.0},{"t":25.836,"v":-0.9},{"t":25.846,"v":-7.1},{"t":25.856,"v":-1.3},{"t":25.866,"v":0.3},{"t":25.876,"v":2.3},{"t":25.886,"v":7.5},{"t":25.896,"v":2.1},{"t":25.906,"v":-5.3},{"t":25.916,"v":-2.3},
{"t":25.926,"v":0.0},{"t":25.936,"v":-3.4},{"t":25.946,"v":0.4},{"t":25.956,"v":0.8},{"t":25.966,"v":-1.9},{"t":25.976,"v":-2.3},{"t":25.986,"v":-3.6},{"t":25.996,"v":1.4},{"t":26.006,"v":3.8},{"t":26.016,"v":7.0},
{"t":26.026,"v":7.5},{"t":26.036,"v":2.3},{"t":26.046,"v":-1.8},{"t":26.056,"v":-1.9},{"t":26.066,"v":-0.3},{"t":26.076,"v":5.0},{"t":26.086,"v":-2.3},{"t":26.096,"v":-0.8},{"t":26.106,"v":-6.6},{"t":26.116,"v":-8.7},
{"t":26.126,"v":-3.2},{"t":26.136,"v":2.8},{"t":26.146,"v":-14.3},{"t":26.156,"v":-1.4},{"t":26.166,"v":-3.4},{"t":26.176,"v":-4.9},{"t":26.186,"v":-6.5},{"t":26.196,"v":-0.1},{"t":26.206,"v":-3.4},{"t":26.216,"v":-1.3},
{"t":26.226,"v":2.3},{"t":26.236,"v":2.6},{"t":26.246,"v":0.0},{"t":26.256,"v":-2.3},{"t":26.266,"v":-1.6},{"t":26.276,"v":-4.8},{"t":26.286,"v":3.8},{"t":26.296,"v":3.4},{"t":26.306,"v":9.4},{"t":26.316,"v":-1.1},
{"t":26.326,"v":3.7},{"t":26.336,"v":-4.4},{"t":26.346,"v":-0.5},{"t":26.356,"v":-4.4},{"t":26.366,"v":-3.4},{"t":26.376,"v":-6.4},{"t":26.386,"v":-9.6},{"t":26.396,"v":1.7},{"t":26.406,"v":-2.9},{"t":26.416,"v":1.6},
{"t":26.426,"v":-1.4},{"t":26.436,"v":1.1},{"t":26.446,"v":-5.9},{"t":26.456,"v":0.9},{"t":26.466,"v":1.2},{"t":26.476,"v":1.5},{"t":26.486,"v":3.6},{"t":26.496,"v":-4.1},{"t":26.506,"v":-0.4},{"t":26.516,"v":-2.8},
{"t":26.526,"v":0.5},{"t":26.536,"v":0.5},{"t":26.546,"v":1.0},{"t":26.556,"v":-5.3},{"t":26.566,"v":-4.1},{"t":26.576,"v":3.0},{"t":26.586,"v":0.9},{"t":26.596,"v":5.2},{"t":26.606,"v":-5.5},{"t":26.616,"v":7.4},
{"t":26.626,"v":-7.1},{"t":26.636,"v":-2.0},{"t":26.646,"v":4.5},{"t":26.656,"v":-4.1},{"t":26.666,"v":1.4},{"t":26.676,"v":-5.3},{"t":26.686,"v":2.6},{"t":26.696,"v":-4.2},{"t":26.706,"v":-6.6},{"t":26.716,"v":5.0},
{"t":26.726,"v":-6.5},{"t":26.736,"v":4.2},{"t":26.746,"v":-5.4},{"t":26.756,"v":4.2},{"t":26.764,"v":-2.1}
]
},
"encoding":{
"x":{"field":"t","type":"quantitative","scale":{"domain":[19.922,26.765],"nice":false,"zero":false},
"axis":{"values":[20,20.5,21,21.5,22,22.5,23,23.5,24,24.5,25,25.5,26,26.5],"labelExpr":"datum.value == 20 ? [':20.000','11/1/22 5:36pm'] : ':' + format(datum.value, '.3f')","labelPadding":4,"labelLineHeight":15,"labelBaseline":"top","labelOverlap":false,"labelFlush":false,"title":"time","titleX":856,"titleY":46,"titleBaseline":"middle","grid":true,"gridColor":{"condition":{"test":"datum.value % 1 === 0","value":"#4a4b50"},"value":"#26282d"}}}
},
"layer":[
{"data":{"name":"band"},"mark":{"type":"area","interpolate":"monotone","color":"#2e2a3b","clip":true},
"encoding":{
"y":{"field":"l3","type":"quantitative","scale":{"domain":[-90.4,52.1],"nice":false,"zero":false},
"axis":{"values":[-90,-80,-70,-60,-50,-40,-30,-20,-10,0,10,20,30,40,50],"labelExpr":"datum.value === 0 ? '0 rad/s' : datum.value + ' mrad/s'","labelPadding":5,"title":"gyro z","titleX":-75,"titleY":345,"titleAngle":270,"titleAlign":"center","titleBaseline":"middle","grid":true,"gridColor":{"condition":{"test":"datum.value === 0","value":"#5e5f64"},"value":"#26282d"}}},
"y2":{"field":"h3"}}},
{"data":{"name":"band"},"mark":{"type":"area","interpolate":"monotone","color":"#4c3549","clip":true},
"encoding":{"y":{"field":"l2","type":"quantitative","scale":{"domain":[-90.4,52.1],"nice":false,"zero":false}},"y2":{"field":"h2"}}},
{"data":{"name":"band"},"mark":{"type":"area","interpolate":"monotone","color":"#5a4e56","clip":true},
"encoding":{"y":{"field":"l1","type":"quantitative","scale":{"domain":[-90.4,52.1],"nice":false,"zero":false}},"y2":{"field":"h1"}}},
{"data":{"name":"meas"},"mark":{"type":"point","shape":"square","size":16,"filled":false,"color":"#d49a30","strokeWidth":1,"opacity":0.78,"clip":true},
"encoding":{"y":{"field":"v","type":"quantitative","scale":{"domain":[-90.4,52.1],"nice":false,"zero":false}}}},
{"data":{"name":"line"},"mark":{"type":"line","interpolate":"monotone","color":"#8389c4","strokeWidth":1.5,"clip":true},
"encoding":{"y":{"field":"p","type":"quantitative","scale":{"domain":[-90.4,52.1],"nice":false,"zero":false}}}},
{"data":{"values":[{"s":"predicted","t":20,"v":0}]},"transform":[{"filter":"false"}],"mark":{"type":"square"},
"encoding":{"y":{"field":"v","type":"quantitative","scale":{"domain":[-90.4,52.1],"nice":false,"zero":false}},"color":{"field":"s","type":"nominal","scale":{"domain":["predicted","measured","predicted 1-sigma","predicted 2-sigma","predicted 3-sigma"],"range":["#4c72b0","#dd8452","#55a868","#c44e52","#8172b3"]},"legend":{"title":null}}}}
]
}
